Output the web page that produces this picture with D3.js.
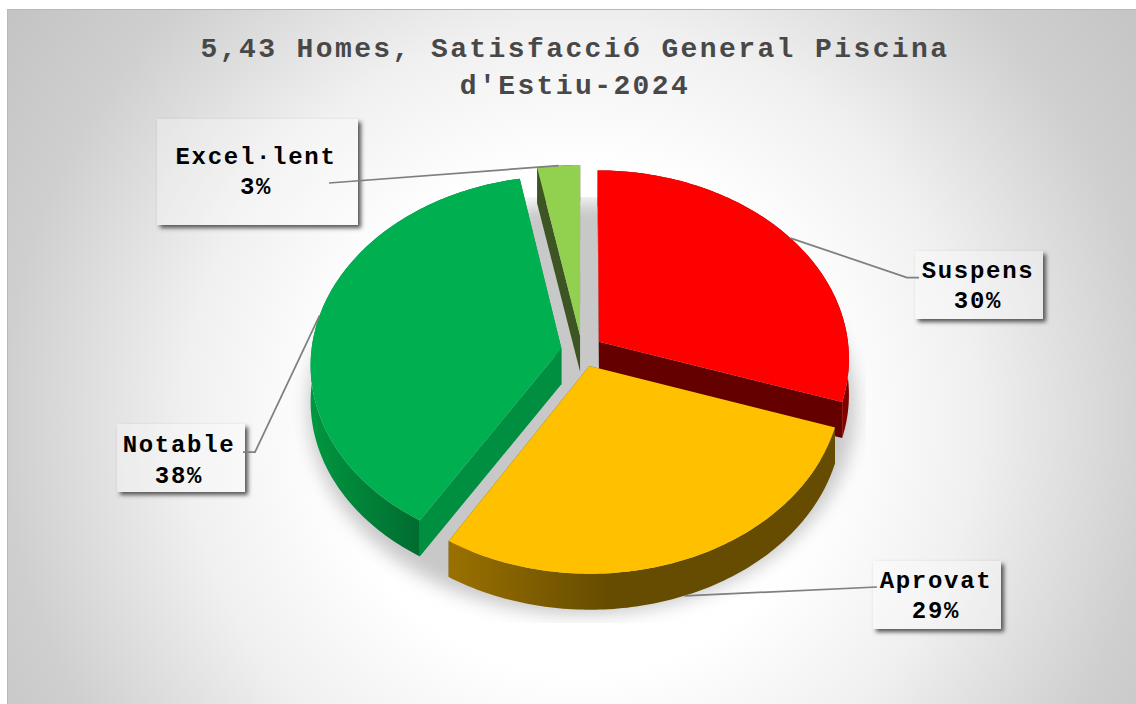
<!DOCTYPE html>
<html>
<head>
  <meta charset="utf-8">
  <title>Satisfaccio General Piscina</title>
  <script src="https://d3js.org/d3.v7.min.js"></script>
  <style>
    html, body { margin: 0; padding: 0; background: #fff; }
    svg { display: block; }
    text { font-family: "Liberation Mono", monospace; font-weight: bold; }
  </style>
</head>
<body>
<div id="my_dataviz"></div>
<script>
// data
const titleLines = ["5,43 Homes, Satisfacció General Piscina", "d'Estiu-2024"];
const categories = ["Suspens", "Aprovat", "Notable", "Excel·lent"];
const values = [30.1, 28.6, 38.3, 3.0];

const topColors = ["#ff0000", "#ffc000", "#00b050", "#92d050"];
const cutColors = ["#640000", "#664c00", "#008f40", "#3d5522"];
const rimStops = [
  ["#8c0000", "#7a0000"],
  ["#997000", "#664c00"],
  ["#00953f", "#006b30"],
  ["#3d5522", "#3d5522"]
];
const rimRange = [[840, 850], [452, 610], [315, 422], [536, 582]];

// label boxes, x y w h + text baselines
const boxes = [
  {x: 915, y: 251, w: 128, h: 68, tx: 978, base: [278, 308], elbow: [[907, 277.5], [919, 277.5]]},
  {x: 873, y: 561, w: 128, h: 68, tx: 936, base: [588, 618], elbow: [[877, 587]]},
  {x: 117, y: 424, w: 128, h: 68, tx: 179, base: [452, 483], elbow: [[255, 452], [243, 452]]},
  {x: 157, y: 119, w: 201, h: 106, tx: 256, base: [164, 194], elbow: [[329, 183]]}
];

const width = 1136, height = 704;
const cx = 582, cy = 351, radius = 250, tilt = 0.75, persp = 0.085, depth = 36, explode = 0.084;

const svg = d3.select("#my_dataviz").append("svg")
  .attr("width", width).attr("height", height);

const sx = d3.scaleLinear().domain([-1, 1]).range([cx - radius, cx + radius]);
const sy = d3.scaleLinear().domain([-1, 1]).range([cy - radius * tilt, cy + radius * tilt]);

// x right, y towards the viewer, z = drop below the top face
function project(x, y, z) {
  const s = 1 / (1 - persp * y);
  return [sx(x * s), sy(y * s) + (z || 0)];
}

const line = d3.line().x(d => d[0]).y(d => d[1]);

const pie = d3.pie().sort(null).startAngle(0).endAngle(2 * Math.PI);
const arcs = pie(values);

arcs.forEach(a => {
  const mid = (a.startAngle + a.endAngle) / 2;
  a.mid = mid;
  a.ox = explode * Math.sin(mid);
  a.oy = -explode * Math.cos(mid);
});

function rimPoint(a, ang, z) {
  return project(a.ox + Math.sin(ang), a.oy - Math.cos(ang), z);
}
function rimAngles(a) {
  const n = Math.max(4, Math.ceil((a.endAngle - a.startAngle) * 60));
  return d3.range(n + 1).map(i => a.startAngle + (a.endAngle - a.startAngle) * i / n);
}

const defs = svg.append("defs");

const bg = defs.append("radialGradient").attr("id", "bgGrad")
  .attr("gradientUnits", "userSpaceOnUse")
  .attr("cx", 580).attr("cy", 420).attr("r", 720);
[[0.35, "#ffffff"], [0.55, "#f0f0f0"], [0.8, "#cfcfcf"], [1, "#c2c2c2"]].forEach(s => {
  bg.append("stop").attr("offset", s[0]).attr("stop-color", s[1]);
});

rimStops.forEach((st, i) => {
  const g = defs.append("linearGradient").attr("id", "rim" + i)
    .attr("gradientUnits", "userSpaceOnUse")
    .attr("x1", rimRange[i][0]).attr("x2", rimRange[i][1]).attr("y1", 0).attr("y2", 0);
  g.append("stop").attr("offset", 0).attr("stop-color", st[0]);
  g.append("stop").attr("offset", 1).attr("stop-color", st[1]);
});

defs.append("filter").attr("id", "groundBlur")
  .attr("x", "-20%").attr("y", "-20%").attr("width", "140%").attr("height", "140%")
  .append("feGaussianBlur").attr("stdDeviation", 9);
defs.append("filter").attr("id", "boxBlur")
  .attr("x", "-20%").attr("y", "-20%").attr("width", "140%").attr("height", "140%")
  .append("feGaussianBlur").attr("stdDeviation", 2);
defs.append("clipPath").attr("id", "groundClip")
  .append("rect").attr("x", 280).attr("y", 197).attr("width", 586).attr("height", 426);

// background
svg.append("rect").attr("x", 7).attr("y", 9).attr("width", width - 7).attr("height", height - 9)
  .attr("fill", "url(#bgGrad)");
svg.append("path").attr("d", "M7.5," + height + "V9.5H" + width)
  .attr("fill", "none")
  .attr("stroke", "#b8b8b8");

// title
svg.selectAll(".title").data(titleLines).enter().append("text")
  .attr("class", "title")
  .attr("x", 575)
  .attr("y", (d, i) => 57 + i * 37)
  .attr("text-anchor", "middle")
  .attr("font-size", 28)
  .attr("letter-spacing", 2.4)
  .attr("fill", "#484848")
  .text(d => d);

// shadow on the ground
const groundPts = d3.range(121).map(i => {
  const t = i / 120 * 2 * Math.PI;
  return project(1.09 * Math.sin(t), 1.09 * Math.cos(t), 38);
});
svg.append("g").attr("clip-path", "url(#groundClip)")
  .append("path")
  .attr("d", line(groundPts) + "Z")
  .attr("fill", "#c8c8c8")
  .attr("filter", "url(#groundBlur)");

// slices, back to front
const drawOrder = [3, 0, 2, 1];
const slices = svg.selectAll(".slice").data(drawOrder.map(i => arcs[i])).enter()
  .append("g").attr("class", "slice");

slices.each(function(a) {
  const g = d3.select(this);
  const i = a.index;
  const tip = project(a.ox, a.oy, 0), tipLow = project(a.ox, a.oy, depth);
  const ang = rimAngles(a);

  // cut faces
  [a.startAngle, a.endAngle].forEach(e => {
    g.append("path")
      .attr("d", line([tip, rimPoint(a, e, 0), rimPoint(a, e, depth), tipLow]) + "Z")
      .attr("fill", cutColors[i]);
  });
  // outer wall
  const wall = ang.map(t => rimPoint(a, t, 0)).concat(ang.slice().reverse().map(t => rimPoint(a, t, depth)));
  g.append("path").attr("d", line(wall) + "Z").attr("fill", "url(#rim" + i + ")");
  // top
  g.append("path")
    .attr("d", line([tip].concat(ang.map(t => rimPoint(a, t, 0)))) + "Z")
    .attr("fill", topColors[i]);
});

// label boxes
const labels = svg.selectAll(".label").data(arcs).enter().append("g").attr("class", "label");

labels.append("rect").attr("class", "boxShadow")
  .attr("x", (d, i) => boxes[i].x + 3).attr("y", (d, i) => boxes[i].y + 3)
  .attr("width", (d, i) => boxes[i].w).attr("height", (d, i) => boxes[i].h)
  .attr("fill", "#555").attr("filter", "url(#boxBlur)");
labels.append("rect")
  .attr("x", (d, i) => boxes[i].x).attr("y", (d, i) => boxes[i].y)
  .attr("width", (d, i) => boxes[i].w).attr("height", (d, i) => boxes[i].h)
  .attr("fill", "url(#bgGrad)");
labels.append("rect")
  .attr("x", (d, i) => boxes[i].x).attr("y", (d, i) => boxes[i].y)
  .attr("width", (d, i) => boxes[i].w).attr("height", (d, i) => boxes[i].h)
  .attr("fill", "#fff").attr("fill-opacity", 0.3);

// leader lines start on the rim at the middle of each slice
labels.append("path")
  .attr("d", (d, i) => {
    const front = Math.cos(d.mid) < -0.5;
    return line([rimPoint(d, d.mid, front ? depth : 0)].concat(boxes[i].elbow));
  })
  .attr("fill", "none")
  .attr("stroke", "#7f7f7f")
  .attr("stroke-width", 1.75);

labels.append("text")
  .attr("x", (d, i) => boxes[i].tx).attr("y", (d, i) => boxes[i].base[0])
  .attr("text-anchor", "middle").attr("font-size", 24).attr("letter-spacing", 1.7)
  .attr("fill", "#000")
  .text((d, i) => categories[i]);
labels.append("text")
  .attr("x", (d, i) => boxes[i].tx).attr("y", (d, i) => boxes[i].base[1])
  .attr("text-anchor", "middle").attr("font-size", 24).attr("letter-spacing", 1.7)
  .attr("fill", "#000")
  .text(d => Math.round(d.value) + "%");
</script>
</body>
</html>
